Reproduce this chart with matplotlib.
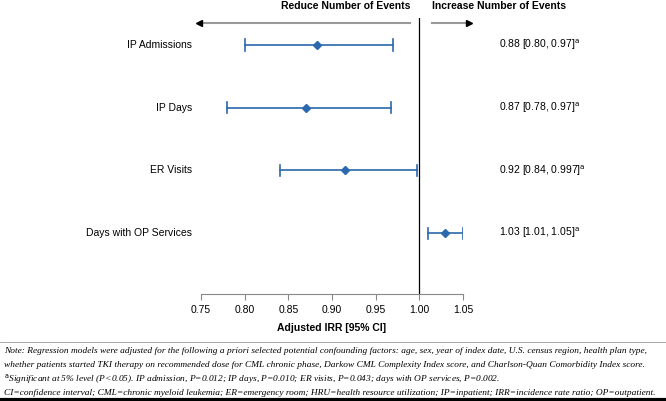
import matplotlib
matplotlib.use("Agg")
import matplotlib.pyplot as plt
from matplotlib.lines import Line2D

# Data
outcomes = ["IP Admissions", "IP Days", "ER Visits", "Days with OP Services"]
irr = [0.883, 0.870, 0.915, 1.029]
ci_low = [0.80, 0.78, 0.84, 1.01]
ci_high = [0.97, 0.967, 0.997, 1.05]
ci_text = ["0.88 [0.80, 0.97]", "0.87 [0.78, 0.97]", "0.92 [0.84, 0.997]", "1.03 [1.01, 1.05]"]
xticks = [0.75, 0.80, 0.85, 0.90, 0.95, 1.00, 1.05]

W, H = 666, 401
fig = plt.figure(figsize=(W / 100, H / 100), dpi=100)
plt.rcParams['font.family'] = ['Liberation Sans', 'DejaVu Sans']

blue = "#2b68ad"

# axes placed in pixel coordinates of the reference
x0, x1 = 201, 463
ytop, ybot = 18, 294
ax = fig.add_axes([x0 / W, 1 - ybot / H, (x1 - x0) / W, (ybot - ytop) / H])
ax.set_xlim(0.75, 1.05)
ax.set_ylim(3.97, -0.43)

for i, name in enumerate(outcomes):
    ax.plot([ci_low[i], ci_high[i]], [i, i], color=blue, lw=1.2)
    ax.plot([ci_low[i], ci_low[i]], [i - 0.09, i + 0.09], color=blue, lw=1.2)
    ax.plot([ci_high[i], ci_high[i]], [i - 0.09, i + 0.09], color=blue, lw=1.2)
    ax.plot(irr[i], i, marker="D", color=blue, markersize=4.5)
    ax.text(-0.035, i, name, transform=ax.get_yaxis_transform(), ha="right",
            va="center", fontsize=7.5)
    ax.text(1.137, i, ci_text[i] + "$^{\\mathrm{a}}$", transform=ax.get_yaxis_transform(),
            ha="left", va="center", fontsize=7.5)

ax.axvline(1.0, color="black", lw=0.9)

for s in ["top", "right", "left"]:
    ax.spines[s].set_visible(False)
ax.spines["bottom"].set_color("#888888")
ax.set_yticks([])
ax.set_xticks(xticks)
ax.set_xticklabels(["%.2f" % t for t in xticks], fontsize=7.5)
ax.tick_params(axis="x", length=4, color="#888888", pad=4)
ax.set_xlabel("Adjusted IRR [95% CI]", fontsize=7.5, fontweight="bold", labelpad=6)

# header with arrows
fig.text(410 / W, 1 - 6 / H, "Reduce Number of Events", ha="right", va="center",
         fontsize=7.5, fontweight="bold")
fig.text(432 / W, 1 - 6 / H, "Increase Number of Events", ha="left", va="center",
         fontsize=7.5, fontweight="bold")
fig.add_artist(Line2D([200 / W, 410 / W], [1 - 23 / H] * 2, color="#999999", lw=1.5))
fig.add_artist(Line2D([432 / W, 466 / W], [1 - 23 / H] * 2, color="#999999", lw=1.5))
fig.add_artist(Line2D([199 / W], [1 - 23 / H], marker="<", color="black", markersize=4, lw=0))
fig.add_artist(Line2D([469 / W], [1 - 23 / H], marker=">", color="black", markersize=4, lw=0))

# note section
fig.add_artist(Line2D([0, 1], [1 - 342 / H] * 2, color="#999999", lw=0.6))
notes = [
    "Note: Regression models were adjusted for the following a priori selected potential confounding factors: age, sex, year of index date, U.S. census region, health plan type,",
    "whether patients started TKI therapy on recommended dose for CML chronic phase, Darkow CML Complexity Index score, and Charlson-Quan Comorbidity Index score.",
    "$^{\\mathrm{a}}$Significant at 5% level (P<0.05). IP admission, P=0.012; IP days, P=0.010; ER visits, P=0.043; days with OP services, P=0.002.",
    "CI=confidence interval; CML=chronic myeloid leukemia; ER=emergency room; HRU=health resource utilization; IP=inpatient; IRR=incidence rate ratio; OP=outpatient.",
]
note_y = [351, 365, 379, 393]
for t, y in zip(notes, note_y):
    fig.text(4 / W, 1 - y / H, t, ha="left", va="center", fontsize=6.75,
             family="Liberation Serif", style="italic")
fig.add_artist(Line2D([0, 1], [1 - 399.5 / H] * 2, color="black", lw=3))

fig.savefig("out.png", dpi=100)
